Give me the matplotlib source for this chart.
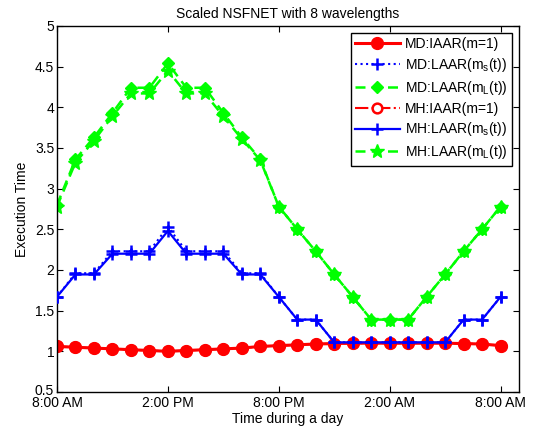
import matplotlib

matplotlib.use("Agg")
import matplotlib.pyplot as plt
import matplotlib.transforms as mtransforms

plt.rcParams["font.family"] = ["Liberation Sans", "DejaVu Sans"]
plt.rcParams["mathtext.default"] = "regular"

# hours after 8:00 AM
hours = list(range(25))
tick_pos = [0, 6, 12, 18, 24]
tick_labels = ["8:00 AM", "2:00 PM", "8:00 PM", "2:00 AM", "8:00 AM"]

md_iaar = [1.06, 1.05, 1.04, 1.03, 1.02, 1.01, 1.00, 1.01, 1.02, 1.03, 1.04, 1.06, 1.07,
           1.08, 1.09, 1.095, 1.10, 1.10, 1.10, 1.10, 1.10, 1.10, 1.095, 1.09, 1.07]
mh_iaar = md_iaar
md_laar_s = [1.67, 1.96, 1.96, 2.23, 2.23, 2.23, 2.53, 2.23, 2.23, 2.23, 1.96, 1.96, 1.67,
             1.39, 1.39, 1.11, 1.11, 1.11, 1.11, 1.11, 1.11, 1.11, 1.39, 1.39, 1.67]
mh_laar_s = [1.67, 1.945, 1.945, 2.2, 2.2, 2.2, 2.48, 2.2, 2.2, 2.2, 1.945, 1.945, 1.67,
             1.39, 1.39, 1.11, 1.11, 1.11, 1.11, 1.11, 1.11, 1.11, 1.39, 1.39, 1.67]
md_laar_l = [2.80, 3.36, 3.63, 3.93, 4.24, 4.24, 4.54, 4.24, 4.24, 3.93, 3.63, 3.36, 2.78,
             2.50, 2.23, 1.945, 1.67, 1.39, 1.39, 1.39, 1.67, 1.945, 2.23, 2.50, 2.78]
mh_laar_l = [2.78, 3.32, 3.59, 3.89, 4.17, 4.17, 4.45, 4.17, 4.17, 3.89, 3.61, 3.35, 2.78,
             2.50, 2.23, 1.945, 1.67, 1.39, 1.39, 1.39, 1.67, 1.945, 2.23, 2.50, 2.78]

fig = plt.figure(figsize=(5.34, 4.32), dpi=100)
ax = fig.add_axes([0.1067, 0.0926, 0.8653, 0.8474])

# filled MD circles hide the open MH ones; blue crosses stay on top of the red
ax.plot(hours, md_iaar, "-", color="red", lw=2.2, marker="o", ms=8.5, zorder=2.5,
        label="MD:IAAR(m=1)")
ax.plot(hours, md_laar_s, ":", color="blue", lw=1.5, marker="+", ms=8.5, mew=1.8,
        zorder=3, label="MD:LAAR(m$_s$(t))")
ax.plot(hours, md_laar_l, "--", color=(0, 1, 0), lw=1.8, marker="D", ms=6.5,
        dashes=(4, 2.5), label="MD:LAAR(m$_L$(t))")
ax.plot(hours, mh_iaar, "-.", color="red", lw=1.5, marker="o", ms=7, mfc="white",
        mew=1.8, zorder=1.9, label="MH:IAAR(m=1)")
ax.plot(hours, mh_laar_s, "-", color="blue", lw=1.6, marker="+", ms=8.5, mew=1.8,
        zorder=3, label="MH:LAAR(m$_s$(t))")
ax.plot(hours, mh_laar_l, "--", color=(0, 1, 0), lw=1.8, marker="*", ms=10,
        dashes=(4, 2.5), label="MH:LAAR(m$_L$(t))")

ax.set_xlim(0, 25)
ax.set_ylim(0.5, 5)
ax.set_xticks(tick_pos)
ax.set_xticklabels(tick_labels)
yt = [0.5 * i for i in range(1, 11)]
ax.set_yticks(yt)
ax.set_yticklabels([f"{v:g}" for v in yt])
ax.tick_params(direction="in", top=True, right=True, labelsize=10, length=4, pad=2)
ax.tick_params(axis="x", pad=3)
# nudge the bottom y label up a little so it clears "8:00 AM"
lab0 = ax.get_yticklabels()[0]
lab0.set_transform(lab0.get_transform() +
                   mtransforms.ScaledTranslation(0, 2 / 72, fig.dpi_scale_trans))
for s in ax.spines.values():
    s.set_linewidth(1.0)

ax.set_title("Scaled NSFNET with 8 wavelengths", fontsize=10, pad=6)
ax.set_xlabel("Time during a day", fontsize=10, labelpad=1)
ax.set_ylabel("Execution Time", fontsize=10, labelpad=4)

leg = ax.legend(loc="upper right", fontsize=10, numpoints=1, handlelength=3.2,
                fancybox=False, edgecolor="black", framealpha=1, borderpad=0.3,
                labelspacing=0.35, handletextpad=0.4, borderaxespad=0.5)
leg.get_frame().set_linewidth(1.0)

fig.savefig("out.png", dpi=100)
